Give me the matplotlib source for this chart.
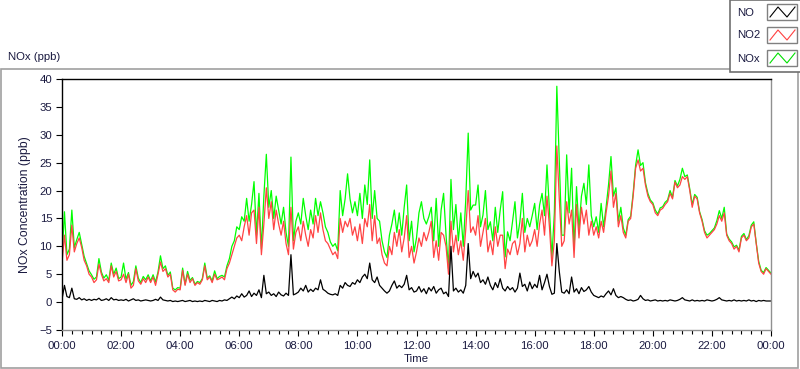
import numpy as np
import matplotlib.pyplot as plt
from matplotlib.patches import Rectangle
from matplotlib.ticker import MultipleLocator, FuncFormatter

plt.rcParams['font.family'] = ['Liberation Sans', 'DejaVu Sans']

# 5-minute samples from 00:00 to 24:00 (12 values per hour + last point)
no2 = [
    7.0, 12.0, 7.5, 8.5, 13.8, 9.0, 10.5, 11.5, 9.8, 7.5, 6.5, 5.0,        # 00
    4.5, 3.5, 4.0, 6.8, 5.0, 3.8, 4.2, 3.5, 6.5, 4.5, 5.5, 3.8,            # 01
    4.0, 5.0, 3.5, 5.0, 2.5, 3.0, 6.0, 3.8, 3.2, 4.2, 3.5, 4.5,            # 02
    3.5, 4.5, 3.0, 5.0, 7.2, 5.5, 6.0, 4.5, 5.0, 2.2, 1.8, 2.3,            # 03
    2.2, 5.7, 3.0, 5.0, 3.5, 4.2, 3.0, 3.5, 3.2, 4.0, 6.5, 4.0,            # 04
    4.5, 3.5, 5.0, 4.0, 4.2, 4.5, 4.0, 6.0, 7.0, 8.5, 10.0, 11.5,          # 05
    12.0, 11.0, 13.5, 15.5, 12.0, 16.0, 16.5, 10.5, 17.0, 8.5, 14.0, 20.5, # 06
    15.0, 18.0, 13.0, 16.5, 14.0, 12.0, 14.5, 10.5, 8.5, 17.0, 9.5, 12.5,  # 07
    13.5, 11.0, 14.5, 12.0, 10.0, 13.0, 11.5, 15.5, 12.5, 16.0, 13.0, 11.0, # 08
    10.5, 9.5, 8.5, 9.0, 7.8, 15.0, 12.5, 14.5, 13.5, 15.0, 12.0, 13.5,    # 09
    11.0, 14.0, 10.5, 15.0, 13.5, 17.5, 11.0, 15.5, 10.5, 11.5, 8.5, 7.0,  # 10
    6.5, 10.0, 8.5, 12.5, 10.0, 13.0, 9.0, 11.5, 15.5, 8.0, 10.0, 7.0,     # 11
    9.0, 11.5, 10.0, 12.5, 11.0, 12.5, 14.5, 8.0, 11.0, 7.5, 12.5, 12.0,   # 12
    10.0, 5.0, 14.5, 9.0, 12.0, 8.5, 11.0, 7.5, 13.0, 20.0, 12.5, 13.5,    # 13
    12.0, 15.5, 10.0, 12.5, 15.0, 9.0, 11.0, 8.5, 13.5, 10.0, 12.0, 12.0,  # 14
    6.0, 9.5, 8.5, 10.5, 11.0, 8.5, 10.5, 15.0, 9.0, 12.0, 10.0, 11.0,     # 15
    13.0, 10.0, 14.0, 16.5, 12.0, 19.0, 13.5, 6.5, 11.0, 28.0, 18.5, 10.0, # 16
    11.0, 18.0, 14.0, 16.5, 8.0, 17.5, 11.5, 17.0, 14.0, 16.5, 12.0, 14.5, # 17
    12.0, 13.5, 11.5, 14.5, 12.5, 16.0, 19.0, 23.5, 17.0, 19.5, 13.5, 15.5, # 18
    12.5, 11.5, 14.5, 15.0, 19.0, 24.0, 25.5, 23.5, 24.0, 21.0, 19.0, 18.0, # 19
    17.5, 16.0, 15.5, 16.5, 16.8, 17.5, 18.0, 19.5, 18.5, 21.5, 20.5, 21.0, # 20
    22.5, 22.0, 22.5, 20.0, 17.0, 19.0, 18.5, 16.0, 14.5, 12.5, 11.5, 12.0, # 21
    12.5, 13.0, 14.0, 15.5, 14.5, 16.0, 12.0, 11.0, 10.5, 9.5, 10.0, 9.0,  # 22
    11.5, 12.0, 11.0, 11.5, 13.5, 14.0, 10.5, 7.0, 5.5, 5.0, 6.0, 5.5,     # 23
    5.0,
]

no = [
    0.5, 3.0, 1.0, 0.8, 2.5, 0.6, 0.5, 0.8, 0.4, 0.6, 0.3, 0.5,   # 00
    0.3, 0.5, 0.4, 0.7, 0.3, 0.4, 0.6, 0.3, 0.8, 0.4, 0.5, 0.3,   # 01
    0.4, 0.3, 0.5, 0.2, 0.4, 0.6, 0.3, 0.4, 0.2, 0.3, 0.4, 0.3,   # 02
    0.2, 0.3, 0.5, 0.3, 0.9, 0.4, 0.3, 0.2, 0.3, 0.1, 0.2, 0.1,   # 03
    0.2, 0.3, 0.1, 0.2, 0.3, 0.1, 0.2, 0.1, 0.2, 0.1, 0.3, 0.2,   # 04
    0.1, 0.3, 0.2, 0.1, 0.3, 0.2, 0.4, 0.3, 0.6, 0.9, 0.6, 1.1,   # 05
    0.8, 1.5, 0.9, 1.2, 2.0, 1.0, 1.6, 1.2, 2.2, 0.8, 4.8, 1.5,   # 06
    1.8, 1.2, 1.5, 1.0, 1.8, 1.3, 1.1, 1.6, 1.2, 8.5, 1.3, 1.5,   # 07
    1.8, 2.5, 2.0, 3.0, 1.8, 2.3, 1.9, 2.5, 2.2, 4.0, 2.3, 2.0,   # 08
    1.6, 1.4, 1.3, 1.5, 1.2, 3.0, 2.5, 3.5, 3.0, 2.8, 3.5, 3.2,   # 09
    4.0, 3.5, 4.5, 5.0, 4.2, 7.0, 4.0, 3.5, 4.5, 3.0, 2.5, 2.0,   # 10
    1.6, 2.0, 3.0, 3.8, 2.5, 3.0, 2.6, 3.2, 4.8, 2.2, 2.6, 1.8,   # 11
    2.0, 2.8, 1.8, 2.4, 1.5, 2.6, 2.0, 2.8, 1.6, 2.2, 2.5, 1.5,   # 12
    1.8, 1.0, 10.0, 2.0, 2.5, 1.8, 2.2, 1.6, 3.0, 10.5, 4.2, 5.5, # 13
    4.5, 5.2, 3.5, 4.0, 3.2, 4.5, 3.0, 2.2, 3.5, 2.6, 4.2, 2.5,   # 14
    2.0, 2.8, 2.2, 2.6, 1.8, 2.5, 5.2, 2.8, 3.2, 2.0, 3.6, 2.4,   # 15
    3.2, 2.6, 4.8, 2.2, 3.5, 5.0, 2.8, 1.4, 1.6, 10.5, 5.5, 1.8,  # 16
    1.6, 2.2, 1.5, 4.5, 1.8, 2.4, 1.5, 2.6, 1.9, 2.2, 2.8, 1.8,   # 17
    1.2, 1.0, 0.8, 1.1, 0.9, 1.5, 2.0, 1.3, 2.4, 1.2, 0.8, 1.0,   # 18
    0.8, 0.5, 0.3, 0.4, 0.2, 0.3, 0.5, 1.2, 0.6, 0.3, 0.4, 0.2,   # 19
    0.3, 0.4, 0.2, 0.3, 0.2, 0.3, 0.2, 0.4, 0.3, 0.2, 0.3, 0.5,   # 20
    0.8, 0.4, 0.3, 0.2, 0.4, 0.2, 0.3, 0.2, 0.3, 0.2, 0.4, 0.3,   # 21
    0.2, 0.3, 0.5, 0.8, 0.4, 0.3, 0.2, 0.3, 0.2, 0.4, 0.2, 0.3,   # 22
    0.2, 0.3, 0.2, 0.4, 0.2, 0.3, 0.1, 0.3, 0.2, 0.3, 0.2, 0.2,   # 23
    0.2,
]

nox = [
    8.0, 16.2, 8.5, 9.5, 16.5, 9.8, 11.2, 12.5, 10.3, 8.2, 6.9, 5.6,       # 00
    4.9, 4.1, 4.5, 7.8, 5.4, 4.3, 4.9, 3.9, 7.0, 5.0, 6.1, 4.2,            # 01
    4.5, 7.0, 4.1, 5.3, 3.0, 3.7, 6.5, 4.3, 3.5, 4.6, 4.0, 4.9,            # 02
    3.8, 4.9, 3.6, 5.4, 8.3, 6.0, 6.5, 4.8, 5.4, 2.5, 2.2, 2.6,            # 03
    2.5, 6.1, 3.2, 5.5, 3.9, 4.4, 3.2, 3.7, 3.5, 4.2, 7.0, 4.3,            # 04
    4.7, 3.8, 5.6, 4.2, 4.6, 4.8, 4.5, 6.5, 7.8, 10.0, 11.0, 13.5,         # 05
    13.0, 15.3, 14.5, 18.6, 14.5, 17.5, 21.6, 12.0, 19.5, 9.5, 19.0, 26.5, # 06
    17.0, 20.0, 15.0, 19.0, 16.5, 14.0, 17.0, 12.5, 10.0, 26.0, 11.0, 14.5, # 07
    16.0, 14.0, 18.6, 15.5, 13.0, 16.5, 14.0, 18.6, 15.5, 18.0, 16.0, 13.5, # 08
    12.5, 10.8, 10.0, 10.5, 9.2, 20.0, 15.5, 18.5, 23.0, 18.5, 16.0, 18.0, # 09
    15.5, 19.5, 15.0, 21.0, 17.5, 25.5, 15.0, 20.0, 15.0, 14.5, 11.0, 9.0, # 10
    8.0, 12.0, 14.0, 16.5, 12.5, 16.0, 12.0, 17.0, 21.0, 11.0, 14.5, 9.0,  # 11
    11.5, 16.0, 18.0, 15.0, 14.0, 15.3, 17.0, 11.0, 18.6, 10.0, 16.5, 19.5, # 12
    12.0, 6.0, 22.0, 13.0, 17.5, 11.0, 16.0, 10.0, 18.3, 30.3, 16.5, 17.4, # 13
    17.4, 21.0, 13.5, 15.6, 20.0, 13.0, 14.4, 11.0, 17.0, 12.5, 16.5, 19.8, # 14
    8.1, 12.6, 11.0, 14.4, 18.0, 11.5, 14.4, 19.5, 12.5, 15.0, 13.5, 15.5, # 15
    17.7, 13.0, 17.4, 19.5, 15.5, 24.6, 16.5, 8.0, 16.0, 38.7, 25.5, 12.0, # 16
    12.0, 26.4, 16.0, 24.0, 9.5, 20.7, 13.0, 19.0, 21.3, 17.5, 24.6, 15.5, # 17
    13.5, 15.3, 12.5, 17.7, 13.5, 17.0, 21.0, 26.1, 19.0, 20.5, 14.5, 17.0, # 18
    13.3, 12.0, 14.8, 15.4, 19.5, 24.5, 27.3, 24.5, 25.0, 21.4, 19.5, 18.3, # 19
    17.8, 16.5, 15.8, 16.9, 17.1, 17.9, 18.3, 20.0, 18.8, 21.8, 20.8, 22.0, # 20
    24.0, 22.5, 22.8, 20.3, 17.5, 19.3, 18.8, 16.2, 14.8, 12.8, 12.0, 12.3, # 21
    12.8, 13.3, 14.6, 16.4, 15.0, 17.0, 12.2, 11.3, 10.8, 9.9, 10.2, 9.3,  # 22
    11.8, 12.3, 11.2, 11.9, 13.8, 14.4, 10.6, 7.3, 5.7, 5.3, 6.2, 5.7,     # 23
    5.2,
]

t = np.arange(len(no2)) / 12.0   # hours

txt = '#1a1a40'
fs = 8.2
W, H = 800, 369

fig = plt.figure(figsize=(W / 100, H / 100), dpi=100)
fig.patch.set_facecolor('white')

# pixel overlay for the panel frame and the legend box
ov = fig.add_axes([0, 0, 1, 1], zorder=0)
ov.set_xlim(0, W)
ov.set_ylim(H, 0)
ov.axis('off')
ov.add_patch(Rectangle((1, 69), 797, 299, fill=False, ec='#a0a0a0', lw=1.2))
ov.text(8, 57, 'NOx (ppb)', fontsize=fs, color=txt, va='center', ha='left')

# legend
ov.add_patch(Rectangle((730, 0), 72, 72, fc='white', ec='#707070', lw=1.2, zorder=3))
leg = [('NO', 'black', 4), ('NO2', '#ff4040', 27), ('NOx', '#00e000', 50)]
for name, col, y0 in leg:
    ov.text(737, y0 + 8.5, name, fontsize=fs, color=txt, va='center', ha='left', zorder=4)
    ov.add_patch(Rectangle((767, y0), 30, 16, fc='white', ec='#808080', lw=1.0, zorder=4))
    ov.plot([770, 778, 787, 795], [y0 + 13, y0 + 3, y0 + 13, y0 + 3],
            color=col, lw=0.8, zorder=5)

ax = fig.add_axes([62 / W, 1 - 330 / H, 709 / W, 251 / H], zorder=1)
ax.set_facecolor('white')

ax.plot(t, nox, color='#00ff00', lw=0.9)
ax.plot(t, no2, color='#ff4444', lw=0.9)
ax.plot(t, no, color='black', lw=0.9)

ax.set_xlim(0, 24)
ax.set_ylim(-5, 40)
ax.xaxis.set_major_locator(MultipleLocator(2))
ax.xaxis.set_minor_locator(MultipleLocator(1 / 3))
ax.xaxis.set_major_formatter(FuncFormatter(lambda v, p: '%02d:00' % (int(round(v)) % 24)))
ax.yaxis.set_major_locator(MultipleLocator(5))

ax.tick_params(axis='both', which='major', labelsize=fs, labelcolor=txt, length=4, width=0.8, pad=3)
ax.tick_params(axis='x', which='minor', length=3, width=0.8)
ax.tick_params(axis='x', which='major', pad=4)

for s in ['top', 'left']:
    ax.spines[s].set_color('black')
    ax.spines[s].set_linewidth(1.0)
for s in ['right', 'bottom']:
    ax.spines[s].set_color('#909090')
    ax.spines[s].set_linewidth(1.0)

ax.set_xlabel('Time', fontsize=fs, color=txt, labelpad=2)
ax.set_ylabel('NOx Concentration (ppb)', fontsize=8.8, color=txt, labelpad=6)

fig.savefig('out.png', dpi=100)
